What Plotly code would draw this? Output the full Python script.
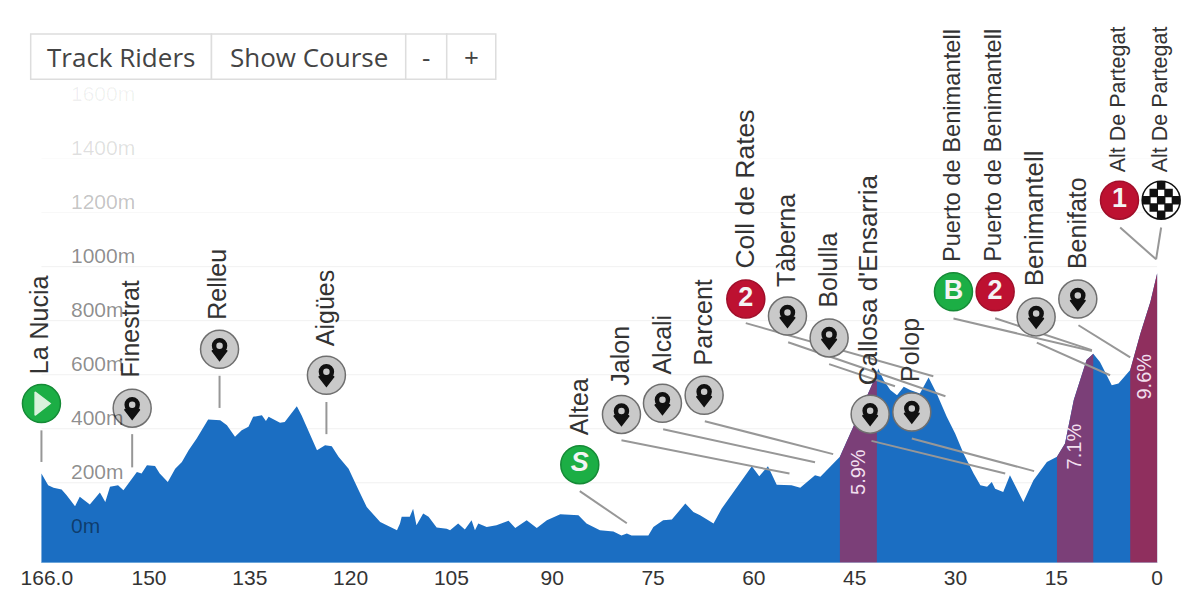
import plotly.graph_objs as go

# Imposta i colori del profilo altimetrico
AREA_COLOR = '#1b6ec2'
SALITA_COLOR = '#7b3f78'
ULTIMA_COLOR = '#8f2f5e'
GRIGIO = '#c9c9c9'
ROSSO = '#bd1131'
VERDE = '#1cae45'
STEM_COLOR = '#979797'
TESTO = 'Liberation Sans'

# Distanza dall'arrivo (km) e quota (m)
profilo = [
    (166.0, 234), (165.7, 222), (165.0, 191), (164.2, 182), (163.0, 175), (162.25, 154), (161.0, 113),
    (160.3, 148), (158.8, 120), (157.3, 164), (156.5, 129), (155.8, 185), (154.6, 191), (153.8, 172),
    (152.6, 215), (151.8, 240), (151.1, 234), (150.3, 265), (149.1, 262), (148.4, 234), (147.2, 203),
    (146.1, 252), (145.1, 277), (144.1, 320), (142.9, 364), (141.9, 407), (141.2, 434), (139.4, 431),
    (138.4, 413), (137.2, 370), (136.2, 394), (135.2, 407), (134.5, 444), (133.2, 450), (132.6, 429),
    (132.2, 444), (130.5, 422), (129.8, 425), (128.8, 456), (128.0, 483), (127.3, 450), (126.3, 394),
    (125.0, 320), (123.8, 339), (122.8, 335), (121.8, 296), (120.3, 252), (118.8, 172), (117.6, 110),
    (115.6, 55), (113.1, 24), (112.65, 49), (112.4, 74), (111.2, 74), (110.7, 104), (110.2, 43),
    (109.2, 86), (108.4, 74), (107.2, 34), (105.7, 30), (105.2, 24), (104.0, 49), (103.0, 27),
    (102.0, 61), (101.5, 24), (101.0, 49), (99.75, 36), (98.3, 43), (96.5, 59), (95.5, 33), (93.8, 61),
    (92.3, 33), (90.8, 61), (88.8, 83), (86.1, 80), (84.9, 49), (82.9, 24), (80.9, 20), (79.7, 5),
    (78.9, 12), (78.2, 5), (75.7, 5), (74.95, 36), (73.5, 61), (72.2, 64), (70.2, 123), (69.0, 92),
    (68.0, 80), (66.0, 49), (64.8, 104), (62.5, 185), (60.3, 261), (59.2, 224), (57.9, 261), (56.6, 193),
    (54.4, 191), (53.1, 182), (50.9, 228), (50.1, 222), (48.2, 271), (47.2, 296), (45.2, 407), (43.7, 493),
    (42.5, 561), (41.7, 604), (41.5, 623), (40.7, 580), (39.7, 543), (38.7, 524), (37.7, 555), (36.75, 543),
    (35.3, 530), (34.0, 590), (32.8, 530), (31.3, 444), (30.05, 382), (28.8, 308), (27.3, 234), (26.3, 191),
    (25.3, 185), (24.6, 203), (24.1, 178), (22.9, 166), (21.9, 228), (20.9, 178), (19.9, 129), (18.4, 209),
    (16.4, 277), (14.9, 296), (13.7, 345), (12.4, 506), (10.5, 654), (9.5, 678), (8.5, 647), (6.75, 561),
    (5.75, 567), (4.0, 617), (2.5, 752), (1.0, 870), (0.0, 975),
]

# Salite: km di inizio, km di fine, colore, pendenza, posizione della scritta
salite = [
    (47.2, 41.7, SALITA_COLOR, '5.9%', 44.5, 240),
    (14.9, 9.5, SALITA_COLOR, '7.1%', 12.35, 335),
    (4.0, 0.0, ULTIMA_COLOR, '9.6%', 2.0, 592),
]

# Punti del percorso: nome, icona, km, quota, inizio e fine della linea, posizione e misura del nome
punti = [
    ('La Nucia', 'play', 166.0, 493, (166.0, 394), (166.0, 277), (166.4, 610), 25),
    ('Finestrat', 'pin', 152.5, 476, (152.5, 380), (152.5, 257), (152.8, 596), 25),
    ('Relleu', 'pin', 139.5, 694, (139.5, 596), (139.5, 477), (139.9, 812), 25),
    ('Aigües', 'pin', 123.6, 598, (123.6, 499), (123.6, 380), (123.8, 713), 25),
    ('Altea', 'S', 85.9, 267, (85.9, 169), (78.9, 50), (86.0, 382), 25),
    ('Jalon', 'pin', 79.7, 453, (79.7, 357), (54.7, 234), (79.9, 567), 25),
    ('Alcali', 'pin', 73.6, 494, (73.5, 398), (50.9, 276), (73.7, 607), 25),
    ('Parcent', 'pin', 67.4, 524, (67.3, 428), (48.2, 306), (67.6, 641), 25),
    ('Coll de Rates', '2', 61.2, 880, (61.2, 791), (33.3, 594), (61.3, 999), 26.5),
    ('Tàberna', 'pin', 55.0, 817, (54.9, 720), (31.5, 520), (55.2, 931), 25),
    ('Bolulla', 'pin', 48.8, 736, (48.8, 639), (39.0, 557), (49.0, 857), 25),
    ("Callosa d'Ensarria", 'pin', 42.7, 454, (42.5, 355), (22.6, 234), (43.0, 567), 26),
    ('Polop', 'pin', 36.5, 462, (36.5, 364), (18.3, 243), (36.8, 580), 25),
    ('Puerto de Benimantell', 'B', 30.3, 907, (30.3, 808), (9.7, 688), (30.6, 1024), 23.7),
    ('Puerto de Benimantell', '2', 24.1, 907, (24.1, 809), (9.7, 691), (24.4, 1024), 23.7),
    ('Benimantell', 'pin', 18.0, 814, (17.9, 719), (7.0, 598), (18.3, 935), 26),
    ('Benifato', 'pin', 11.8, 880, (11.7, 783), (4.0, 664), (11.9, 999), 25),
    ('Alt De Partegat', '1', 5.6, 1246, (5.5, 1145), (0.15, 1027), (5.8, 1357), 21.5),
    ('Alt De Partegat', 'fine', -0.6, 1246, (-0.6, 1145), (0.15, 1027), (-0.45, 1357), 21.5),
]

# Crea la lista che contiene i dizionari con i dati
BASE = -97
data = [dict(type='scatter', mode='lines', fill='toself', fillcolor=AREA_COLOR, line=dict(width=0),
             x=[p[0] for p in profilo] + [0.0, 166.0], y=[p[1] for p in profilo] + [BASE, BASE],
             hoverinfo='skip', showlegend=False)]

# Crea un dizionario vuoto per contenere le impostazioni e il layout
layout = dict()
fig = dict(data=data, layout=layout)
fig['layout']['width'] = 1184
fig['layout']['height'] = 584
fig['layout']['plot_bgcolor'] = 'white'
fig['layout']['paper_bgcolor'] = 'white'
fig['layout']['showlegend'] = False
fig['layout']['margin'] = dict(t=12, b=29.3, r=8.16, l=20)
fig['layout']['xaxis'] = dict(range=[168, -4], tickvals=[165.2, 150, 135, 120, 105, 90, 75, 60, 45, 30, 15, 0],
                              ticktext=['166.0', '150', '135', '120', '105', '90', '75', '60', '45', '30', '15', '0'],
                              showgrid=False, zeroline=False, showline=False, automargin=False,
                              ticklen=0, tickfont=dict(family=TESTO, size=21, color='#333333'))
fig['layout']['yaxis'] = dict(range=[BASE, 1913], showticklabels=False, showgrid=False, zeroline=False,
                              automargin=False)
fig['layout']['annotations'] = []
fig['layout']['shapes'] = [dict(type='line', xref='x', yref='y', x0=166, x1=0, y0=BASE, y1=BASE,
                                line=dict(width=1, color='#bcdcf2'))]

# Griglia e quote, sempre piu' chiare verso l'alto
quote = [(0, 0.06, 0.45), (200, 0.06, 0.45), (400, 0.06, 0.45), (600, 0.06, 0.45), (800, 0.06, 0.45),
         (1000, 0.06, 0.45), (1200, 0.03, 0.24), (1400, 0.02, 0.12), (1600, 0.0, 0.06)]
for q, griglia, alfa in quote:
    fig['layout']['shapes'].append(dict(type='line', xref='x', yref='y', x0=166, x1=0, y0=q, y1=q, layer='below',
                                        line=dict(width=1, color='rgba(0,0,0,%s)' % griglia)))
    fig['layout']['annotations'].append(dict(x=161.9, y=q, xref='x', yref='y', text='%dm' % q, showarrow=False,
                                             xanchor='left', yanchor='bottom', yshift=-2,
                                             font=dict(family=TESTO, size=21, color='rgba(0,0,0,%s)' % alfa)))

# Aggiunge i tratti delle salite e la pendenza
for inizio, fine, colore, pendenza, km, quota in salite:
    tratto = [p for p in profilo if inizio >= p[0] >= fine]
    fig['data'].append(dict(type='scatter', mode='lines', fill='toself', fillcolor=colore, line=dict(width=0),
                            x=[p[0] for p in tratto] + [fine, inizio], y=[p[1] for p in tratto] + [BASE, BASE],
                            hoverinfo='skip'))
    fig['layout']['annotations'].append(dict(x=km, y=quota, xref='x', yref='y', text=pendenza, showarrow=False,
                                             textangle=-90, font=dict(family=TESTO, size=20, color='#f1dfee')))

# Cerchi delle icone
def cerchio(km, quota, size, colore, bordo, simbolo='circle', testo=None):
    fig['data'].append(dict(type='scatter', mode='markers+text' if testo else 'markers', x=[km], y=[quota],
                            cliponaxis=False, hoverinfo='skip', text=[testo], textposition='middle center',
                            textfont=dict(family=TESTO, size=27, color='#f4f4f4'),
                            marker=dict(size=size, color=colore, symbol=simbolo, line=dict(width=1.5, color=bordo))))

for nome, icona, km, quota, da, a, scritta, misura in punti:
    if icona == 'pin':
        cerchio(km, quota, 38, GRIGIO, '#6f6f6f')
        cerchio(km, quota + 13, 14, '#111111', '#111111')
        cerchio(km, quota - 17, 13, '#111111', '#111111', 'triangle-down')
        cerchio(km, quota + 13, 5, GRIGIO, GRIGIO)
    elif icona == 'play':
        cerchio(km, quota, 38, VERDE, '#158a36')
        cerchio(km + 0.2, quota, 20, '#d9f2dc', '#d9f2dc', 'triangle-right')
    elif icona == 'fine':
        cerchio(km, quota, 38, 'white', '#111111')
        caselle = [(i, j) for i in range(-2, 3) for j in range(-2, 3) if (i + j) % 2 == 0 and abs(i * j) < 4]
        for i, j in caselle:
            cerchio(km + i * 1.1, quota + j * 27, 7, '#111111', '#111111', 'square')
    else:
        colore = ROSSO if icona in ('1', '2') else VERDE
        testo = '<b><i>S</i></b>' if icona == 'S' else '<b>%s</b>' % icona
        cerchio(km, quota, 38, colore, '#158a36' if colore == VERDE else '#a00f2a', testo=testo)
    # Linea che collega l'icona al profilo
    fig['data'].append(dict(type='scatter', mode='lines', x=[da[0], a[0]], y=[da[1], a[1]], cliponaxis=False,
                            line=dict(width=2, color=STEM_COLOR), hoverinfo='skip'))
    fig['layout']['annotations'].append(dict(x=scritta[0], y=scritta[1], xref='x', yref='y', text=nome, yshift=-4,
                                             showarrow=False, textangle=-90, xanchor='center', yanchor='bottom',
                                             font=dict(family=TESTO, size=misura, color='#333333')))

# Popola i pulsanti sopra il grafico
bottoni = [('Track Riders', 167.6, 140.7), ('Show Course', 140.7, 111.8), ('-', 111.8, 105.7), ('+', 105.7, 98.4)]
for etichetta, x0, x1 in bottoni:
    fig['layout']['shapes'].append(dict(type='rect', xref='x', yref='y', x0=x0, x1=x1, y0=1694, y1=1861,
                                        fillcolor='white', line=dict(width=1.5, color='#dddddd')))
    fig['layout']['annotations'].append(dict(x=(x0 + x1) / 2, y=1777, xref='x', yref='y', text=etichetta,
                                             showarrow=False,
                                             font=dict(family='Open Sans', size=26, color='#444444')))

grafico = go.Figure(fig)
grafico.write_html("out.html", config=dict(displayModeBar=False))
